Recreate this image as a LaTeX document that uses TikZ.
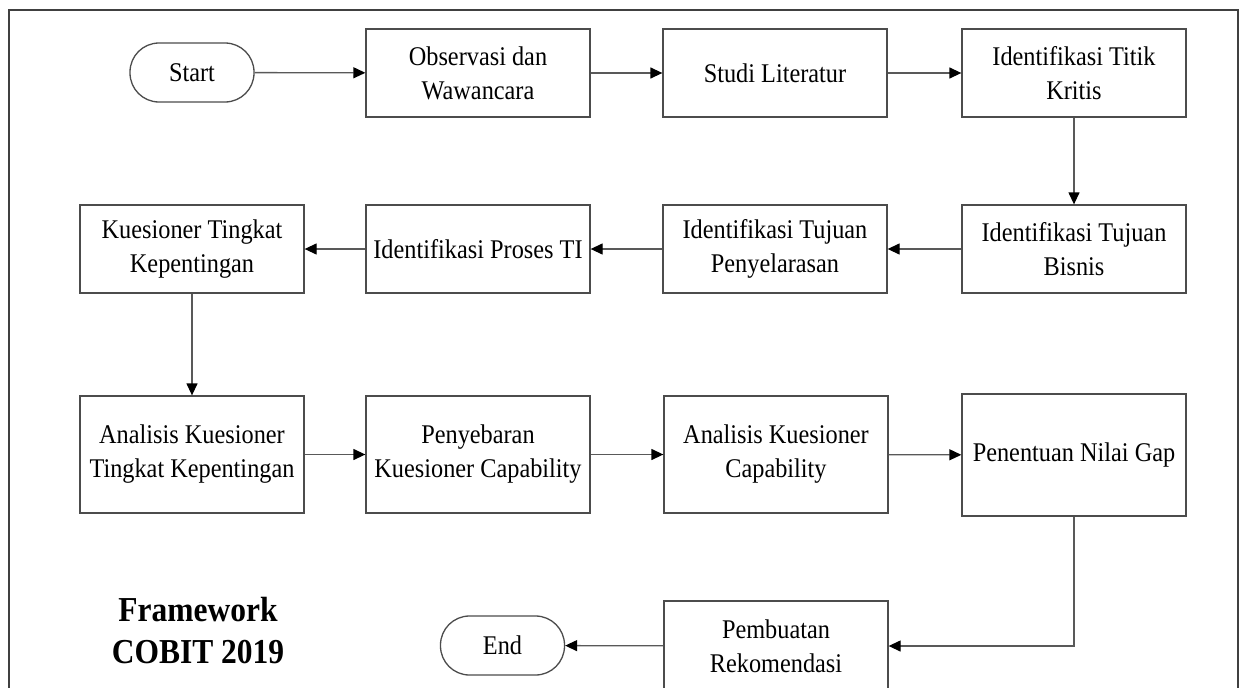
\documentclass[tikz,border=0pt]{standalone}
\usepackage{fontspec}
\setmainfont{Liberation Serif}[FakeStretch=0.9]
\usetikzlibrary{arrows.meta}
\tikzset{
  stepbox/.style={draw=black!70, line width=1.3pt, rectangle, minimum width=224pt, minimum height=88pt, inner sep=0pt, align=center, font=\fontsize{27}{34}\selectfont},
  term/.style={draw=black!70, line width=1.3pt, rectangle, rounded corners=29pt, minimum width=124pt, minimum height=59pt, inner sep=0pt, font=\fontsize{27}{34}\selectfont},
  conn/.style={draw=black!65, line width=1.3pt, -{Triangle[length=12pt,width=11pt,color=black]}},
  frame/.style={draw=black!75, line width=2pt}
}
\begin{document}
\begin{tikzpicture}[x=1pt,y=-1pt]
\useasboundingbox[fill=white] (0,0) rectangle (1245,688);
\draw[frame] (9,700) -- (9,10) -- (1238,10) -- (1238,700);
% row 1
\node[term] (start) at (192,72.5) {Start};
\node[stepbox] (obs) at (478,73) {Observasi dan\\Wawancara};
\node[stepbox] (studi) at (775,73) {Studi Literatur};
\node[stepbox] (titik) at (1074,73) {Identifikasi Titik\\Kritis};
% row 2
\node[stepbox] (kues) at (192,249) {Kuesioner Tingkat\\Kepentingan};
\node[stepbox] (proses) at (478,249) {Identifikasi Proses TI};
\node[stepbox] (selaras) at (775,249) {Identifikasi Tujuan\\Penyelarasan};
\node[stepbox] (bisnis) at (1074,249) {Identifikasi Tujuan\\Bisnis};
% row 3
\node[stepbox, minimum height=117pt] (akt) at (192,454.5) {Analisis Kuesioner\\Tingkat Kepentingan};
\node[stepbox, minimum height=117pt] (sebar) at (478,454.5) {Penyebaran\\Kuesioner Capability};
\node[stepbox, minimum height=117pt] (akc) at (776,454.5) {Analisis Kuesioner\\Capability};
\node[stepbox, minimum height=122pt] (gap) at (1074,455) {Penentuan Nilai Gap};
% row 4
\node[stepbox, minimum height=90pt] (rekom) at (776,646) {Pembuatan\\Rekomendasi};
\node[term] (end) at (502.5,645.5) {End};
\node[font=\fontsize{35}{42}\selectfont\bfseries, align=center] (title) at (198,631) {Framework\\COBIT 2019};
% connectors
\draw[conn] (start) -- (obs);
\draw[conn] (obs) -- (studi);
\draw[conn] (studi) -- (titik);
\draw[conn] (titik) -- (bisnis);
\draw[conn] (bisnis) -- (selaras);
\draw[conn] (selaras) -- (proses);
\draw[conn] (proses) -- (kues);
\draw[conn] (kues) -- (akt);
\draw[conn] (akt) -- (sebar);
\draw[conn] (sebar) -- (akc);
\draw[conn] (akc) -- (gap);
\draw[conn] (gap.south) |- (rekom.east);
\draw[conn] (rekom) -- (end);
\end{tikzpicture}
\end{document}
